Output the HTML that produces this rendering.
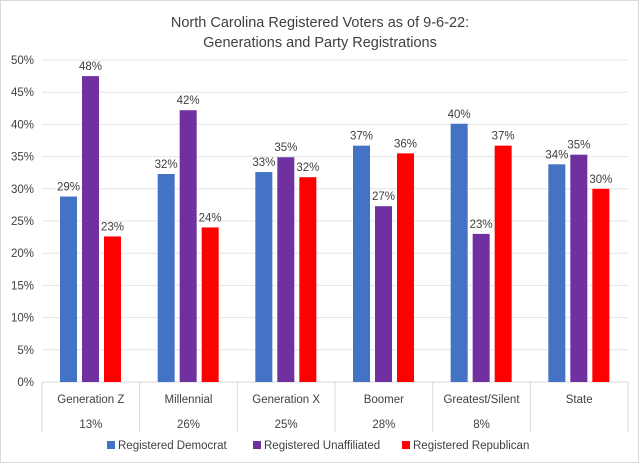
<!DOCTYPE html>
<html><head><meta charset="utf-8"><style>
body{margin:0;background:#fff;font-family:"Liberation Sans",sans-serif}
svg text{font-family:"Liberation Sans",sans-serif;fill:#404040}
</style></head><body>
<svg id="c" width="640" height="464" xmlns="http://www.w3.org/2000/svg">
<rect x="0.5" y="0.5" width="638" height="462" fill="#fff" stroke="#d9d9d9"/>
<text x="320" y="27" text-anchor="middle" font-size="14.5" fill="#404040">North Carolina Registered Voters as of 9-6-22:</text>
<text x="320" y="47" text-anchor="middle" font-size="14.5">Generations and Party Registrations</text>
<g id="grid"></g><g id="bars"></g><g id="axis"></g><g id="legend"></g>
</svg>
<script>
const categories=["Generation Z","Millennial","Generation X","Boomer","Greatest/Silent","State"];
const shares=["13%","26%","25%","28%","8%",""];
const seriesNames=["Registered Democrat","Registered Unaffiliated","Registered Republican"];
const democrat=[28.8,32.3,32.6,36.7,40.1,33.8];
const unaffiliated=[47.5,42.2,34.9,27.3,23.0,35.3];
const republican=[22.6,24.0,31.8,35.5,36.7,30.0];
const ticks=[0,5,10,15,20,25,30,35,40,45,50];
const colors=["#4472c4","#7030a0","#ff0000"];
const series=[democrat,unaffiliated,republican];
const NS="http://www.w3.org/2000/svg";
const L=42,R=628,T=60,B=382,gw=(R-L)/categories.length;
const y=v=>B-(v/50)*(B-T);
function mk(tag,attrs,parent,txt){const e=document.createElementNS(NS,tag);for(const k in attrs)e.setAttribute(k,attrs[k]);if(txt!=null)e.textContent=txt;document.getElementById(parent).appendChild(e);return e;}
ticks.forEach(t=>{
  const l=mk('line',{x1:L,x2:R,y1:y(t),y2:y(t),stroke:t===0?'#d9d9d9':'#e4e4e4','stroke-width':1},'grid');
  
  
  const tx=mk('text',{x:34,y:y(t)+4,'text-anchor':'end','font-size':11.5},'axis',t+'%');
  
  
});
for(let i=0;i<=categories.length;i++){
  const d=mk('line',{x1:L+i*gw,x2:L+i*gw,y1:B,y2:432,stroke:'#d9d9d9'},'axis');
  
  
}
categories.forEach((c,i)=>{
  const cx=L+i*gw+gw/2;
  const t1=mk('text',{x:cx,y:403,'text-anchor':'middle','font-size':11.5},'axis',c);
  
  
  if(shares[i]){const t2=mk('text',{x:cx,y:428,'text-anchor':'middle','font-size':11.5},'axis',shares[i]);
  
  }
  series.forEach((s,j)=>{
    const bx=L+i*gw+18+j*22,v=s[i];
    const r=mk('rect',{x:bx,y:y(v),width:17,height:B-y(v),fill:colors[j]},'bars');
    
    
    const lb=mk('text',{x:bx+8.5,y:y(v)-6,'text-anchor':'middle','font-size':11.5},'bars',Math.round(v)+'%');
    
    
  });
});
const lx=[107,253,402];
seriesNames.forEach((n,j)=>{
  const r=mk('rect',{x:lx[j],y:441,width:8,height:8,fill:colors[j]},'legend');
  
  
  const t=mk('text',{x:lx[j]+11,y:449,'font-size':11.5},'legend',n);
  
  
});
</script>
</body></html>
